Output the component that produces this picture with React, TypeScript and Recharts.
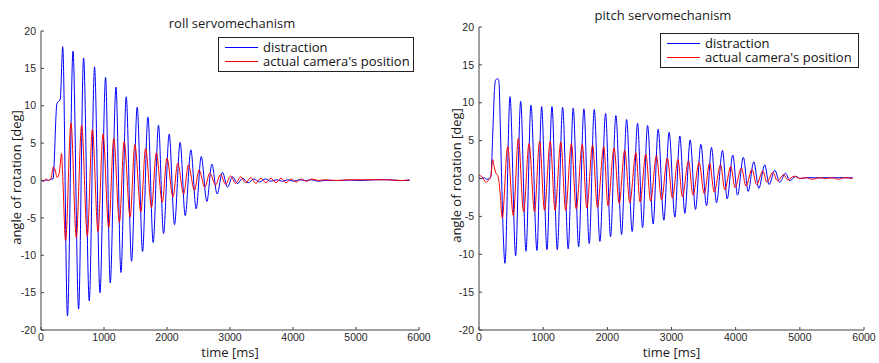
import { Legend, Line, LineChart, XAxis, YAxis } from 'recharts'

// [time ms, angle deg] (extrema + a few shape points)
const rollDistraction: [number, number][] = [
	[0, 0.1], [40, -0.1], [80, 0.1], [120, 0], [160, 0.2], [190, 0.2], [253, 10.3], [306, 10.9],
	[345, 17.9], [420, -18.1], [508, 17.3], [597, -17.2], [676, 16.4], [766, -16.1], [850, 15.2],
	[936, -15.0], [1025, 13.8], [1099, -13.7], [1190, 12.5], [1269, -12.3], [1353, 11.2],
	[1437, -10.8], [1527, 9.8], [1612, -9.5], [1697, 8.5], [1781, -8.3], [1865, 7.4], [1945, -7.1],
	[2035, 6.2], [2119, -5.9], [2209, 5.1], [2289, -4.7], [2379, 4.1], [2463, -3.8], [2543, 3.2],
	[2633, -2.8], [2712, 2.2], [2796, -1.8], [2880, 1.1], [2960, -0.9], [3040, 0.5], [3120, -0.4],
	[3200, 0.3], [3290, -0.3], [3380, 0.2], [3470, -0.2], [3560, 0.2], [3650, -0.1], [3740, 0.1],
	[3830, -0.1], [3920, 0.1], [4010, -0.1], [4100, 0.1], [4200, 0], [4300, 0.1], [4400, -0.1],
	[4500, 0], [4700, 0], [4900, 0.05], [5100, 0], [5300, 0.1], [5500, 0.1], [5700, 0], [5850, 0],
]

const rollCamera: [number, number][] = [
	[0, 0.1], [40, -0.1], [80, 0.2], [120, 0], [160, 0.3], [195, 1.8], [225, 1.4], [255, 0.4],
	[290, 1.0], [327, 3.6], [345, 0.5], [390, -8.0], [476, 7.7], [560, -7.6], [645, 7.4],
	[735, -7.4], [815, 6.8], [905, -6.8], [985, 6.2], [1075, -6.3], [1155, 5.6], [1245, -5.6],
	[1320, 5.2], [1415, -4.9], [1490, 4.8], [1585, -4.2], [1660, 4.3], [1755, -3.6], [1830, 3.7],
	[1925, -2.9], [2000, 3.0], [2095, -2.2], [2170, 2.3], [2265, -1.8], [2340, 2.1], [2435, -1.3],
	[2510, 1.4], [2600, -0.9], [2680, 1.0], [2770, -0.6], [2850, 0.8], [2930, -0.5], [3010, 0.6],
	[3090, -0.4], [3170, 0.5], [3250, -0.3], [3330, 0.4], [3410, -0.4], [3490, 0.3], [3570, -0.3],
	[3650, 0.3], [3730, -0.3], [3810, 0.3], [3890, -0.3], [3970, 0.2], [4050, -0.2], [4130, 0.2],
	[4210, -0.1], [4300, 0.2], [4400, 0], [4500, 0.1], [4700, 0], [4900, 0.1], [5100, 0.1],
	[5300, 0.1], [5500, 0.1], [5700, 0], [5850, 0.1],
]

const pitchDistraction: [number, number][] = [
	[0, 0.1], [40, 0], [80, 0.1], [120, -0.1], [160, 0], [185, 0.3], [215, 6], [240, 11.5],
	[255, 12.9], [290, 13.2], [310, 12.8], [335, 6], [365, -4], [405, -11.2], [483, 10.8],
	[571, -10.2], [649, 10.2], [732, -9.6], [810, 9.7], [903, -9.5], [976, 9.5], [1059, -9.4],
	[1137, 9.5], [1220, -9.4], [1303, 9.4], [1390, -9.3], [1468, 9.3], [1553, -9.0], [1635, 9.2],
	[1718, -8.6], [1796, 9.1], [1884, -8.3], [1973, 8.6], [2050, -7.7], [2133, 8.3], [2222, -7.4],
	[2300, 7.8], [2387, -7.0], [2471, 7.3], [2549, -6.5], [2627, 7.0], [2714, -6.0], [2792, 6.5],
	[2881, -5.5], [2963, 6.1], [3052, -5.1], [3130, 5.6], [3208, -4.6], [3291, 5.1], [3374, -4.1],
	[3457, 4.5], [3546, -3.6], [3623, 4.1], [3702, -3.2], [3794, 3.7], [3868, -2.7], [3955, 3.1],
	[4029, -2.2], [4120, 2.8], [4195, -1.7], [4282, 2.2], [4361, -1.3], [4453, 1.8], [4521, -0.8],
	[4609, 1.1], [4687, -0.5], [4776, 0.7], [4843, -0.3], [4936, 0.3], [5000, 0], [5100, 0.1],
	[5300, 0.1], [5500, 0.1], [5700, 0.1], [5824, 0.1],
]

const pitchCamera: [number, number][] = [
	[0, 0.4], [40, 0.3], [80, -0.2], [110, -0.5], [150, -0.2], [185, 0.3], [213, 2.5], [235, 1.6],
	[260, 0.8], [300, 0.2], [330, -2], [362, -5.2], [447, 4.2], [535, -4.9], [613, 5.3],
	[695, -4.4], [780, 4.6], [865, -4.4], [945, 4.9], [1020, -4.2], [1110, 4.9], [1185, -4.2],
	[1275, 4.8], [1350, -4.2], [1440, 4.6], [1515, -4.0], [1610, 4.5], [1680, -3.9], [1770, 4.4],
	[1845, -3.8], [1945, 4.2], [2010, -3.6], [2105, 4.0], [2185, -3.3], [2270, 3.7], [2350, -3.2],
	[2445, 3.4], [2510, -3.1], [2600, 3.2], [2675, -3.0], [2765, 3.0], [2845, -2.8], [2935, 2.7],
	[3015, -2.6], [3100, 2.5], [3170, -2.4], [3265, 2.3], [3335, -2.2], [3430, 2.1], [3510, -2.0],
	[3595, 2.0], [3665, -1.8], [3765, 1.8], [3830, -1.5], [3925, 1.6], [3990, -1.2], [4090, 1.4],
	[4160, -1.0], [4255, 1.2], [4325, -0.8], [4425, 1.0], [4485, -0.5], [4580, 0.8], [4650, -0.3],
	[4750, 0.5], [4810, -0.2], [4910, 0.3], [5000, 0], [5100, 0.1], [5200, -0.1], [5300, 0.1],
	[5400, 0], [5500, 0.1], [5600, -0.1], [5700, 0.1], [5824, 0],
]

const timeTicks = [0, 1000, 2000, 3000, 4000, 5000, 6000]
const angleTicks = [-20, -15, -10, -5, 0, 5, 10, 15, 20]
const seriesNames = ['distraction', "actual camera's position"]
const seriesColors = ['#0000ff', '#ff0000']

const TEXT_FONT = '"Open Sans", sans-serif'
const TICK_FONT = '"Liberation Sans", Arial, sans-serif'

const toPoints = (rows: [number, number][]) => rows.map(([t, v]) => ({ t, v }))

const LegendBox = ({ lineLeft }: { lineLeft: number }) => (
	<div
		style={{
			border: '1px solid #222',
			background: '#fff',
			padding: `2px 4px 3px ${lineLeft}px`,
			boxSizing: 'border-box',
			fontFamily: TEXT_FONT,
			fontSize: 13,
			lineHeight: '14px',
			color: '#111',
		}}
	>
		{seriesNames.map((name, i) => (
			<div key={name} style={{ display: 'flex', alignItems: 'center', height: 14 }}>
				<svg width={33} height={14} style={{ flex: 'none' }}>
					<line x1={0} x2={33} y1={7.5} y2={7.5} stroke={seriesColors[i]} strokeWidth={1} />
				</svg>
				<span style={{ marginLeft: 5, whiteSpace: 'nowrap' }}>{name}</span>
			</div>
		))}
	</div>
)

interface ServoChartProps {
	distraction: [number, number][]
	camera: [number, number][]
	top: number
	right: number
	yAxisWidth: number
	legendPos: { left: number; top: number; width: number; lineLeft: number }
}

const ServoChart = ({ distraction, camera, top, right, yAxisWidth, legendPos }: ServoChartProps) => (
	<LineChart width={440} height={363} margin={{ top, right, bottom: 0, left: 0 }}>
		<XAxis
			dataKey='t'
			type='number'
			domain={[0, 6000]}
			ticks={timeTicks}
			interval={0}
			allowDataOverflow
			height={33}
			tickSize={-3}
			tickMargin={7}
			axisLine={{ stroke: '#404040' }}
			tickLine={{ stroke: '#404040' }}
			tick={{ fontSize: 10.5, fill: '#262626', fontFamily: TICK_FONT }}
			label={{
				value: 'time [ms]',
				position: 'insideBottom',
				offset: 6,
				style: { fontSize: 13, fill: '#1a1a1a', fontFamily: TEXT_FONT },
			}}
		/>
		<YAxis
			type='number'
			domain={[-20, 20]}
			ticks={angleTicks}
			interval={0}
			allowDataOverflow
			width={yAxisWidth}
			tickSize={-3}
			tickMargin={8}
			axisLine={{ stroke: '#404040' }}
			tickLine={{ stroke: '#404040' }}
			tick={{ fontSize: 10.5, fill: '#262626', fontFamily: TICK_FONT }}
			label={{
				value: 'angle of rotation [deg]',
				content: (props: any) => {
					const vb = props.viewBox || { x: 0, y: 0, width: 0, height: 0 }
					const cx = vb.x + 16
					const cy = vb.y + vb.height / 2 - 3
					return (
						<text
							x={cx}
							y={cy}
							transform={`rotate(-90 ${cx} ${cy})`}
							textAnchor='middle'
							dominantBaseline='central'
							fontSize={13}
							fill='#1a1a1a'
							fontFamily={TEXT_FONT}
						>
							angle of rotation [deg]
						</text>
					)
				},
			}}
		/>
		<Legend
			layout='vertical'
			align='center'
			verticalAlign='middle'
			wrapperStyle={{ left: legendPos.left, top: legendPos.top, width: legendPos.width }}
			content={() => <LegendBox lineLeft={legendPos.lineLeft} />}
		/>
		<Line
			data={toPoints(distraction)}
			dataKey='v'
			name={seriesNames[0]}
			type='monotone'
			stroke={seriesColors[0]}
			strokeWidth={1}
			dot={false}
			activeDot={false}
			isAnimationActive={false}
		/>
		<Line
			data={toPoints(camera)}
			dataKey='v'
			name={seriesNames[1]}
			type='monotone'
			stroke={seriesColors[1]}
			strokeWidth={1}
			dot={false}
			activeDot={false}
			isAnimationActive={false}
		/>
	</LineChart>
)

const titleStyle = {
	position: 'absolute' as const,
	width: 240,
	textAlign: 'center' as const,
	fontFamily: TEXT_FONT,
	fontSize: 13,
	lineHeight: '18px',
	color: '#1a1a1a',
}

export default function App() {
	return (
		<div
			style={{
				position: 'absolute',
				left: 0,
				top: 0,
				width: 879,
				height: 363,
				background: '#fff',
				overflow: 'hidden',
			}}
		>
			<div style={{ position: 'absolute', left: 0, top: 0 }}>
				<ServoChart
					distraction={rollDistraction}
					camera={rollCamera}
					top={31}
					right={21}
					yAxisWidth={41}
					legendPos={{ left: 218, top: 37, width: 196, lineLeft: 6 }}
				/>
			</div>
			<div style={{ position: 'absolute', left: 440, top: 0 }}>
				<ServoChart
					distraction={pitchDistraction}
					camera={pitchCamera}
					top={27}
					right={16}
					yAxisWidth={39}
					legendPos={{ left: 220, top: 33, width: 199, lineLeft: 6 }}
				/>
			</div>
			<div style={{ ...titleStyle, left: 112, top: 14 }}>roll servomechanism</div>
			<div style={{ ...titleStyle, left: 543, top: 6 }}>pitch servomechanism</div>
		</div>
	)
}
